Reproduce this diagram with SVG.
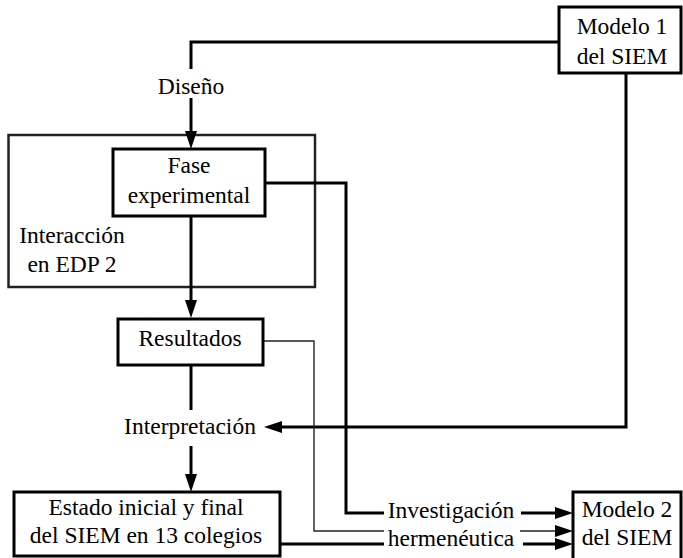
<svg xmlns="http://www.w3.org/2000/svg" width="683" height="558" viewBox="0 0 683 558">
<style>
text{font-family:"Liberation Serif","Times New Roman",serif;font-size:23.5px;fill:#000;text-anchor:middle}
.box{fill:#fff;stroke:#000;stroke-width:3}
.outer{fill:none;stroke:#222;stroke-width:2.5}
.c{fill:none;stroke:#000;stroke-width:3}
.thin{fill:none;stroke:#222;stroke-width:1.4}
</style>
<defs>
<marker id="ah" viewBox="0 0 18 12" refX="0" refY="6" markerWidth="18" markerHeight="12" markerUnits="userSpaceOnUse" orient="auto">
<path d="M0,0 L18,6 L0,12 z" fill="#000"/>
</marker>
</defs>
<rect width="683" height="558" fill="#fff"/>
<g id="interaccion">
<rect class="outer" x="8.5" y="135" width="306.5" height="152"/>
<text x="72" y="243">Interacción</text>
<text x="72" y="272">en EDP 2</text>
</g>
<g id="connectors">
<path class="c" d="M559,42 H191 V69"/>
<path class="c" d="M191,98 V131" marker-end="url(#ah)"/>
<path class="c" d="M191,216 V300" marker-end="url(#ah)"/>
<path class="c" d="M191,365 V410"/>
<path class="c" d="M191,446 V474" marker-end="url(#ah)"/>
<path class="c" d="M626,73 V427 H282" marker-end="url(#ah)"/>
<path class="c" d="M265,183 H346 V513 H384"/>
<path class="thin" d="M263,341 H314 V531 H384"/>
<path class="c" d="M280,544 H384"/>
<path class="c" d="M521,513 H555" marker-end="url(#ah)"/>
<path class="thin" d="M520,531 H555" marker-end="url(#ah)"/>
<path class="c" d="M523,544 H555" marker-end="url(#ah)"/>
</g>
<g id="modelo1">
<rect class="box" x="559" y="7" width="122" height="66"/>
<text x="622" y="34">Modelo 1</text>
<text x="622" y="64">del SIEM</text>
</g>
<g id="diseno">
<text x="191" y="94">Diseño</text>
</g>
<g id="fase">
<rect class="box" x="113" y="149" width="152" height="67"/>
<text x="189" y="173">Fase</text>
<text x="189" y="203">experimental</text>
</g>
<g id="resultados">
<rect class="box" x="118" y="319" width="145" height="46"/>
<text x="190" y="346">Resultados</text>
</g>
<g id="interpretacion">
<text x="190" y="434">Interpretación</text>
</g>
<g id="estado">
<rect class="box" x="14" y="492" width="266" height="64"/>
<text x="146" y="515">Estado inicial y final</text>
<text x="146" y="543">del SIEM en 13 colegios</text>
</g>
<g id="investigacion">
<text x="451" y="518">Investigación</text>
<text x="451" y="546">hermenéutica</text>
</g>
<g id="modelo2">
<rect class="box" x="573" y="492" width="108" height="70"/>
<text x="627" y="517">Modelo 2</text>
<text x="627" y="545">del SIEM</text>
</g>
</svg>
